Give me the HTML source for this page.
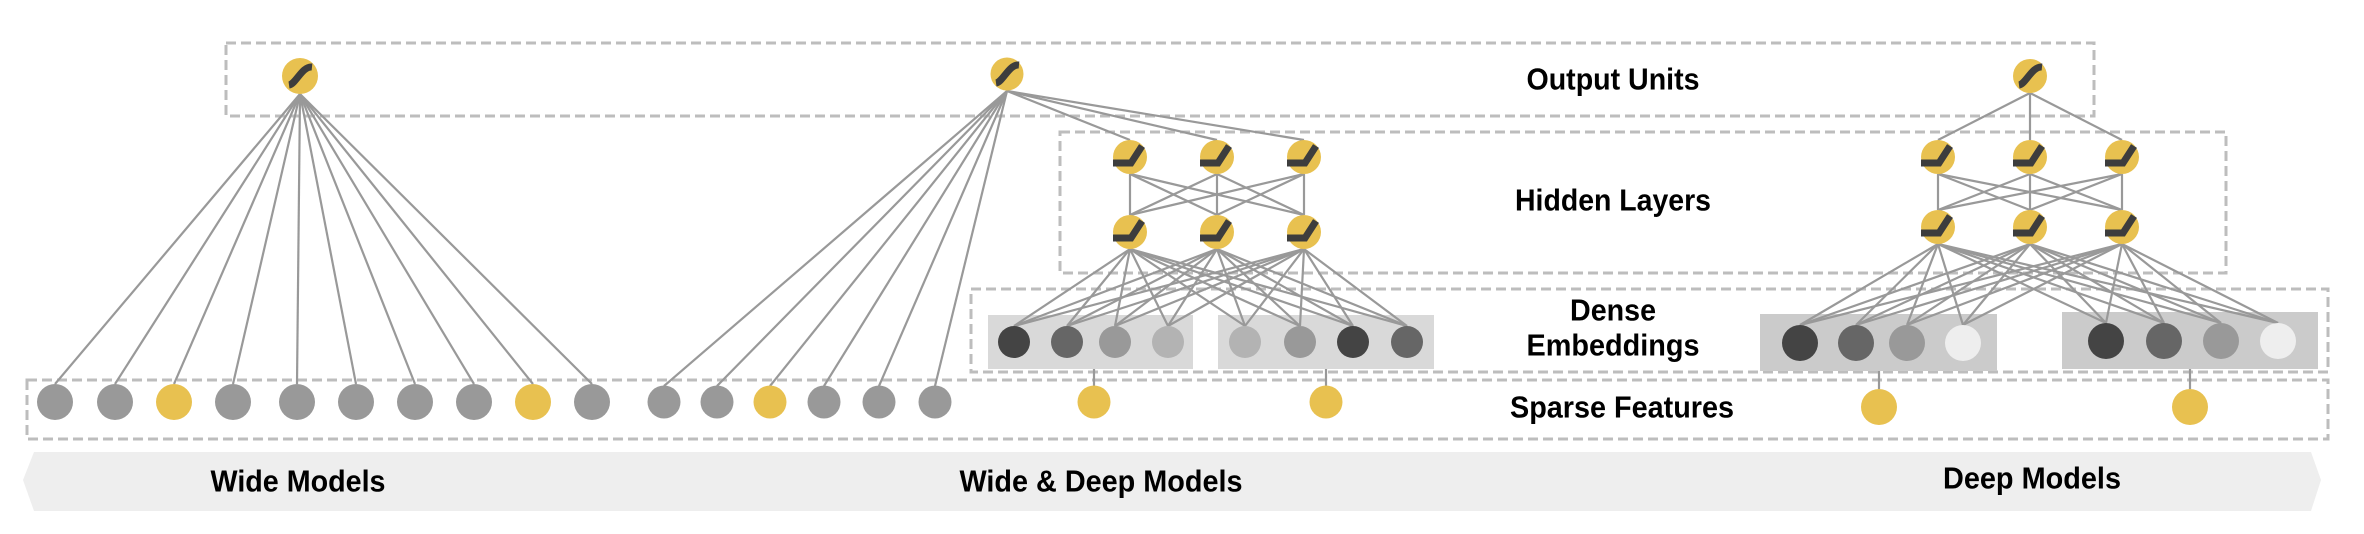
<!DOCTYPE html>
<html><head><meta charset="utf-8">
<style>
html,body{margin:0;padding:0;background:#fff;}
svg{display:block;}
.t{font-family:"Liberation Sans Narrow","Liberation Sans",sans-serif;font-weight:bold;font-size:31px;fill:#000;text-anchor:middle;dominant-baseline:central;}
</style></head>
<body>
<svg id="s" width="2364" height="534" viewBox="0 0 2364 534" xmlns="http://www.w3.org/2000/svg">
<g fill="none" stroke="#bdbdbd" stroke-width="3" stroke-dasharray="10 5">
<rect x="226" y="43" width="1868" height="73"/>
<rect x="1060" y="132" width="1166" height="141"/>
<rect x="971" y="289" width="1357" height="83"/>
<rect x="27" y="380" width="2301" height="59"/>
</g>
<polygon points="34,452 2311,452 2321,480 2311,511 34,511 23,480" fill="#eeeeee"/>
<rect x="988" y="315" width="205" height="54" fill="#d9d9d9"/>
<rect x="1218" y="315" width="216" height="54" fill="#d9d9d9"/>
<rect x="1760" y="314" width="237" height="57" fill="#cbcbcb"/>
<rect x="2062" y="312" width="256" height="57" fill="#cbcbcb"/>
<g id="L" stroke="#999" stroke-width="2.2" fill="none"></g>
<g id="N"></g>
<text class="t" x="1613" y="79" textLength="173" lengthAdjust="spacingAndGlyphs">Output Units</text>
<text class="t" x="1613" y="200" textLength="196" lengthAdjust="spacingAndGlyphs">Hidden Layers</text>
<text class="t" x="1613" y="310" textLength="86" lengthAdjust="spacingAndGlyphs">Dense</text>
<text class="t" x="1613" y="345" textLength="173" lengthAdjust="spacingAndGlyphs">Embeddings</text>
<text class="t" x="1622" y="407" textLength="224" lengthAdjust="spacingAndGlyphs">Sparse Features</text>
<text class="t" x="298" y="481" textLength="175" lengthAdjust="spacingAndGlyphs">Wide Models</text>
<text class="t" x="1101" y="481" textLength="283" lengthAdjust="spacingAndGlyphs">Wide &amp; Deep Models</text>
<text class="t" x="2032" y="478" textLength="178" lengthAdjust="spacingAndGlyphs">Deep Models</text>
</svg>
<script>
var NS="http://www.w3.org/2000/svg",L=document.getElementById('L'),N=document.getElementById('N');
function el(p,t,a){var e=document.createElementNS(NS,t);for(var k in a)e.setAttribute(k,a[k]);p.appendChild(e);return e;}
function line(x1,y1,x2,y2){el(L,'line',{x1:x1,y1:y1,x2:x2,y2:y2});}
var Y='#e8c150';
function circ(x,y,r,c){el(N,'circle',{cx:x,cy:y,r:r,fill:c});}
function sig(x,y,r){circ(x,y,r,Y);el(N,'path',{d:'M'+(x-11)+','+(y+9)+' C'+(x-4)+','+(y+8)+' '+(x+2)+','+(y-10)+' '+(x+12)+','+(y-9),stroke:'#3d3d3d','stroke-width':7,fill:'none'});}
function relu(x,y,r){circ(x,y,r,Y);el(N,'path',{d:'M'+(x-17)+','+(y+6)+' L'+(x+1)+','+(y+6)+' L'+(x+12)+','+(y-11),stroke:'#3d3d3d','stroke-width':7,fill:'none'});}
var wx=[55,115,174,233,297,356,415,474,533,592],wc=[0,0,1,0,0,0,0,0,1,0];
wx.forEach(function(x){line(300,94,x,384);});
var dx=[664,717,770,824,879,935],dc=[0,0,1,0,0,0];
dx.forEach(function(x){line(1007,91,x,386);});
var h=[1130,1217,1304];
h.forEach(function(x){line(1007,91,x,140);});
h.forEach(function(a){h.forEach(function(b){line(a,174,b,215);});});
var e1=[1014,1067,1115,1168,1245,1300,1353,1407],ec1=['#444','#666','#999','#b3b3b3','#b3b3b3','#999','#444','#666'];
h.forEach(function(a){e1.forEach(function(b){line(a,249,b,326);});});
line(1094,369,1094,386);line(1326,369,1326,386);
var g=[1938,2030,2122];
g.forEach(function(x){line(2030,93,x,140);});
g.forEach(function(a){g.forEach(function(b){line(a,174,b,210);});});
var e2=[1800,1856,1907,1963,2106,2164,2221,2278],ec2=['#444','#666','#999','#eee','#444','#666','#999','#eee'];
g.forEach(function(a){e2.forEach(function(b,i){line(a,244,b,i<4?325:323);});});
line(1879,371,1879,389);line(2190,369,2190,389);
wx.forEach(function(x,i){circ(x,402,18,wc[i]?Y:'#999');});
dx.forEach(function(x,i){circ(x,402,16.5,dc[i]?Y:'#999');});
sig(300,76,18);sig(1007,74,16.5);sig(2030,76,17);
h.forEach(function(x){relu(x,157,17);relu(x,232,17);});
g.forEach(function(x){relu(x,157,17);relu(x,227,17);});
e1.forEach(function(x,i){circ(x,342,16,ec1[i]);});
e2.forEach(function(x,i){circ(x,i<4?343:341,18,ec2[i]);});
circ(1094,402,16.5,Y);circ(1326,402,16.5,Y);
circ(1879,407,18,Y);circ(2190,407,18,Y);
</script>
</body></html>
